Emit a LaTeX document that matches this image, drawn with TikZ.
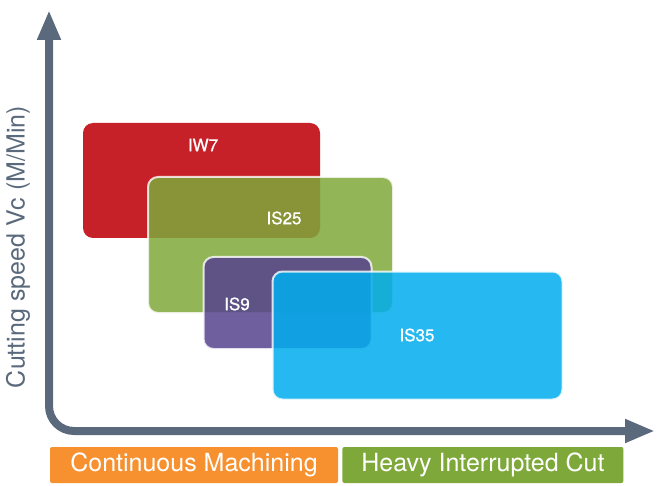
\documentclass[tikz,border=0pt]{standalone}
\usepackage{fontspec}
\setmainfont{TeX Gyre Heros}
\newfontfamily\slabfont[FakeBold=1]{TeX Gyre Heros}
\usetikzlibrary{arrows.meta, positioning, calc}
\definecolor{axisgray}{HTML}{5A6A7C}
\definecolor{iwred}{HTML}{C62128}
\definecolor{isgreen}{HTML}{7FA83A}
\definecolor{ispurple}{HTML}{56438D}
\definecolor{iscyan}{HTML}{00ADEE}
\definecolor{bandorange}{HTML}{F7912F}
\tikzset{
    chart/.style={x=1pt, y=-1pt},
    axisline/.style={draw=axisgray, line width=8pt, rounded corners=25pt,
        arrows={Triangle[length=30pt, width=22pt]-Triangle[length=30pt, width=22pt]}},
    slab/.style={rounded corners=10pt, inner sep=0pt},
    % translucent grade boxes with a thin white rim
    overslab/.style={slab, fill opacity=0.85, draw=white, draw opacity=0.8, line width=2pt},
    slablabel/.style={text=white, font=\slabfont\fontsize{17}{20}\selectfont},
    band/.style={rounded corners=2pt, inner sep=0pt, minimum height=36pt,
        text=white, font=\fontsize{25}{30}\selectfont},
}
\begin{document}
\begin{tikzpicture}[chart]
    \useasboundingbox (0,0) rectangle (658,486);

    % axes
    \coordinate (ytip)   at (49,10);
    \coordinate (origin) at (49,431);
    \coordinate (xtip)   at (655,431);
    \draw[axisline] (ytip) -- (origin) -- (xtip);
    \node[rotate=90, text=axisgray, font=\fontsize{25}{30}\selectfont] (ylabel) at (18,247) {Cutting speed Vc (M/Min)};

    % grade boxes
    \node[slab, fill=iwred, minimum width=237pt, minimum height=115pt] (iw7) at (201.5,180.5) {};
    \node[overslab, fill=isgreen, minimum width=245pt, minimum height=136pt] (is25) at (270.5,245) {};
    \node[overslab, fill=ispurple, minimum width=168pt, minimum height=92pt] (is9) at (287.5,303) {};
    \node[overslab, fill=iscyan, minimum width=290pt, minimum height=128pt] (is35) at (417.5,335.5) {};

    \node[slablabel] (iw7lbl)  at (203,145) {IW7};
    \node[slablabel] (is25lbl) at (284,218) {IS25};
    \node[slablabel] (is9lbl)  at (237,304) {IS9};
    \node[slablabel] (is35lbl) at (417,335) {IS35};

    % machining bands
    \node[band, fill=bandorange, minimum width=288pt] (cont)  at (194,465) {Continuous Machining};
    \node[band, fill=isgreen, minimum width=281pt, right=4pt of cont] (heavy) {Heavy Interrupted Cut};
\end{tikzpicture}
\end{document}
